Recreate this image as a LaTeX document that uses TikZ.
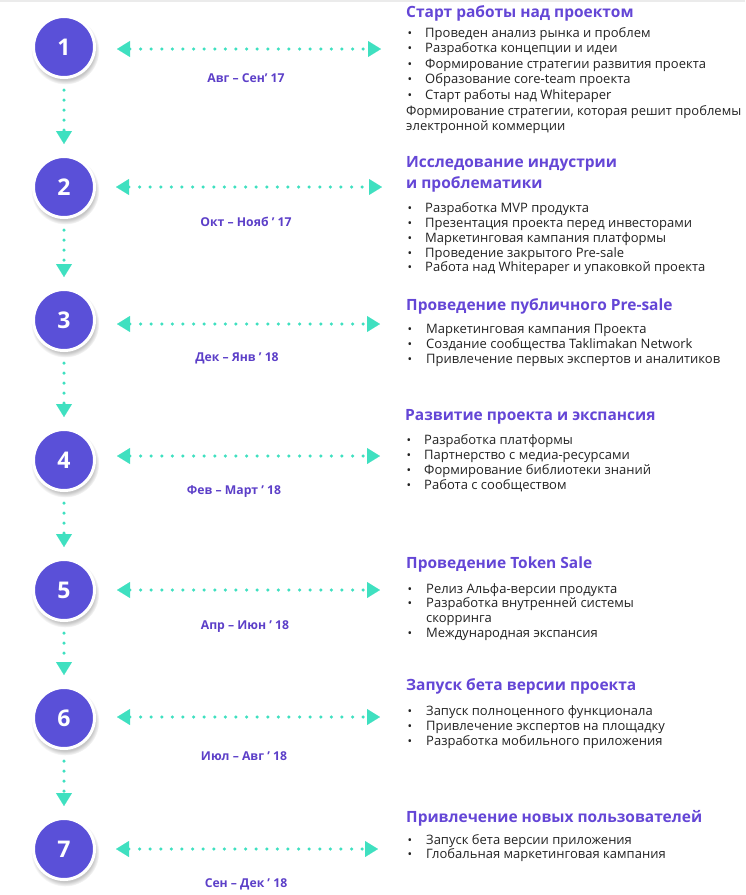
\documentclass[tikz,border=0pt]{standalone}
\usepackage{fontspec}
\setmainfont{Open Sans}
\usetikzlibrary{arrows.meta,shadows,fadings}
\definecolor{circc}{HTML}{5A50D8}
\definecolor{tealc}{HTML}{3FE0C0}
\definecolor{ttlc}{HTML}{6446D6}
\definecolor{dtec}{HTML}{5C3FC8}
\definecolor{bodyc}{HTML}{222222}
\begin{document}
\begin{tikzpicture}[x=1pt,y=-1pt,
  stage/.style={circle, fill=circc, draw=white, line width=3pt, minimum size=61pt, inner sep=0pt,
    text=white, font=\fontsize{23}{23}\selectfont\bfseries,
    circular drop shadow={shadow xshift=1pt, shadow yshift=-3pt, shadow scale=1.12, opacity=0.45}},
  hline/.style={tealc, line width=3.5pt, dash pattern=on 0pt off 10.6pt, line cap=round,
    {Triangle[length=13pt,width=16pt,line width=0.1pt]}-{Triangle[length=13pt,width=16pt,line width=0.1pt]}},
  vline/.style={tealc, line width=3.5pt, dash pattern=on 0pt off 10pt, line cap=round,
    -{Triangle[length=13pt,width=16pt,line width=0.1pt]}, shorten <=11pt, shorten >=11pt},
  ttl/.style={anchor=base west, inner sep=0pt, text=ttlc, font=\fontsize{15.5}{18}\selectfont\bfseries},
  itm/.style={anchor=base west, inner sep=0pt, text=bodyc, font=\fontsize{13}{15}\selectfont},
  bul/.style={anchor=base, inner sep=0pt, text=bodyc, font=\fontsize{12}{15}\selectfont},
  dte/.style={anchor=base, inner sep=0pt, text=dtec, font=\fontsize{12.2}{14}\selectfont\bfseries}]
\useasboundingbox (0,0) rectangle (745,895);
\fill[black!8] (0,0) rectangle (745,2);

% circles
\node[stage] (c1) at (64,47) {1};
\node[stage] (c2) at (64,187) {2};
\node[stage] (c3) at (64,320) {3};
\node[stage] (c4) at (64,460) {4};
\node[stage] (c5) at (64,590) {5};
\node[stage] (c6) at (64,718) {6};
\node[stage] (c7) at (64,849) {7};

% vertical arrows
\draw[vline] (c1) -- (c2);
\draw[vline] (c2) -- (c3);
\draw[vline] (c3) -- (c4);
\draw[vline] (c4) -- (c5);
\draw[vline] (c5) -- (c6);
\draw[vline] (c6) -- (c7);

% horizontal arrows
\coordinate (l1) at (117,49);  \coordinate (r1) at (381,49);
\coordinate (l2) at (116,187); \coordinate (r2) at (382,187);
\coordinate (l3) at (117,324); \coordinate (r3) at (380,324);
\coordinate (l4) at (117,456); \coordinate (r4) at (380,456);
\coordinate (l5) at (117,590); \coordinate (r5) at (380,590);
\coordinate (l6) at (117,717); \coordinate (r6) at (380,717);
\coordinate (l7) at (116,849); \coordinate (r7) at (378,849);
\foreach \i in {1,...,7} \draw[hline] (l\i) -- (r\i);

% dates
\node[dte] (d1) at (246,82.5) {Авг – Сен’ 17};
\node[dte] (d2) at (246,226.5) {Окт – Нояб ' 17};
\node[dte] (d3) at (237,361.5) {Дек – Янв ’ 18};
\node[dte] (d4) at (234,494.5) {Фев – Март ’ 18};
\node[dte] (d5) at (245,629.5) {Апр – Июн ’ 18};
\node[dte] (d6) at (244,760.5) {Июл – Авг ’ 18};
\node[dte] (d7) at (246,887.5) {Сен – Дек ’ 18};

% block 1
\node[ttl] (t1) at (406,17) {Старт работы над проектом};
\foreach \y/\t [count=\k] in {37/Проведен анализ рынка и проблем,52/Разработка концепции и идеи,68/Формирование стратегии развития проекта,83/Образование core-team проекта,99/Старт работы над Whitepaper}{
  \node[bul] (b1\k) at (410,\y) {•};
  \node[itm] (i1\k) at (425,\y) {\t};
}
\node[itm] (p1a) at (406,115) {Формирование стратегии, которая решит проблемы};
\node[itm] (p1b) at (406,130.5) {электронной коммерции};

% block 2
\node[ttl] (t2a) at (406,167) {Исследование индустрии};
\node[ttl] (t2b) at (406,188) {и проблематики};
\foreach \y/\t [count=\k] in {212/Разработка MVP продукта,227/Презентация проекта перед инвесторами,242/Маркетинговая кампания платформы,257/Проведение закрытого Pre-sale,271.5/Работа над Whitepaper и упаковкой проекта}{
  \node[bul] (b2\k) at (410,\y) {•};
  \node[itm] (i2\k) at (425,\y) {\t};
}

% block 3
\node[ttl] (t3) at (406,310) {Проведение публичного Pre-sale};
\foreach \y/\t [count=\k] in {333/Маркетинговая кампания Проекта,348/Создание сообщества Taklimakan Network,363/Привлечение первых экспертов и аналитиков}{
  \node[bul] (b3\k) at (410,\y) {•};
  \node[itm] (i3\k) at (426,\y) {\t};
}

% block 4
\node[ttl] (t4) at (405,420) {Развитие проекта и экспансия};
\foreach \y/\t [count=\k] in {444/Разработка платформы,459/Партнерство с медиа-ресурсами,474/Формирование библиотеки знаний,489.5/Работа с сообществом}{
  \node[bul] (b4\k) at (409,\y) {•};
  \node[itm] (i4\k) at (424,\y) {\t};
}

% block 5
\node[ttl] (t5) at (406,568) {Проведение Token Sale};
\node[bul] (b51) at (410,593) {•};
\node[itm] (i51) at (426,593) {Релиз Альфа-версии продукта};
\node[bul] (b52) at (410,607.5) {•};
\node[itm] (i52) at (426,607.5) {Разработка внутренней системы};
\node[itm] (i52b) at (426,622.5) {скорринга};
\node[bul] (b53) at (410,637) {•};
\node[itm] (i53) at (426,637) {Международная экспансия};

% block 6
\node[ttl] (t6) at (406,690) {Запуск бета версии проекта};
\foreach \y/\t [count=\k] in {715/Запуск полноценного функционала,730/Привлечение экспертов на площадку,745/Разработка мобильного приложения}{
  \node[bul] (b6\k) at (410,\y) {•};
  \node[itm] (i6\k) at (426,\y) {\t};
}

% block 7
\node[ttl] (t7) at (406,822) {Привлечение новых пользователей};
\foreach \y/\t [count=\k] in {844/Запуск бета версии приложения,858.5/Глобальная маркетинговая кампания}{
  \node[bul] (b7\k) at (410,\y) {•};
  \node[itm] (i7\k) at (426,\y) {\t};
}
\end{tikzpicture}
\end{document}
